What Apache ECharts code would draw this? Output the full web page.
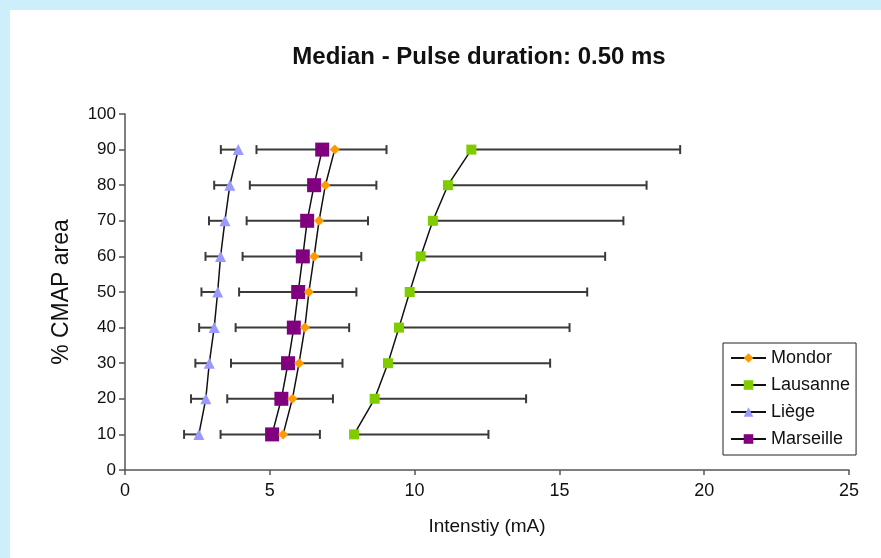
<!DOCTYPE html>
<html>
<head>
<meta charset="utf-8">
<script src="https://cdn.jsdelivr.net/npm/echarts@6/dist/echarts.min.js"></script>
<style>
  html, body { margin: 0; padding: 0; background: #cdeffc; }
  #chart { width: 881px; height: 558px; }
</style>
</head>
<body>
<div id="chart"></div>
<script>
// % CMAP area levels (y) and median intensities (mA)
const levels = [10, 20, 30, 40, 50, 60, 70, 80, 90];
const mondor = [5.46, 5.78, 6.01, 6.21, 6.35, 6.53, 6.70, 6.92, 7.24];
const mondorHigh = [6.73, 7.18, 7.51, 7.74, 7.99, 8.16, 8.39, 8.68, 9.03];
const lausanne = [7.91, 8.62, 9.08, 9.46, 9.83, 10.21, 10.63, 11.15, 11.96];
const lausanneHigh = [12.55, 13.85, 14.68, 15.35, 15.96, 16.58, 17.21, 18.01, 19.17];
const liege = [2.55, 2.79, 2.91, 3.08, 3.20, 3.30, 3.45, 3.62, 3.91];
const liegeLow = [2.04, 2.28, 2.43, 2.56, 2.64, 2.78, 2.90, 3.08, 3.31];
const marseille = [5.08, 5.40, 5.63, 5.83, 5.98, 6.14, 6.29, 6.53, 6.81];
const marseilleLow = [3.30, 3.53, 3.66, 3.82, 3.94, 4.06, 4.20, 4.31, 4.54];

const chart = echarts.init(document.getElementById('chart'));

// points [x, y]
function pts(xs) {
    return levels.map((lv, i) => [xs[i], lv]);
}
// error bar items [end, y, marker]
function bars(ends, marks) {
    return levels.map((lv, i) => [ends[i], lv, marks[i]]);
}

function renderBar(params, api) {
    const p0 = api.coord([api.value(0), api.value(1)]);
    const p1 = api.coord([api.value(2), api.value(1)]);
    const h = 4.5;
    const st = { stroke: '#3a3a3a', lineWidth: 2 };
    return {
        type: 'group',
        children: [
            { type: 'line', shape: { x1: p0[0], y1: p0[1], x2: p1[0], y2: p1[1] }, style: st },
            { type: 'line', shape: { x1: p0[0], y1: p0[1] - h, x2: p0[0], y2: p0[1] + h }, style: st }
        ]
    };
}

function barSeries(data) {
    return {
        type: 'custom',
        renderItem: renderBar,
        data: data,
        encode: { x: [0, 2], y: 1 },
        silent: true,
        z: 1
    };
}

function lineSeries(name, data, symbol, size, color, z) {
    return {
        name: name,
        type: 'line',
        data: data,
        symbol: symbol,
        symbolSize: size,
        showSymbol: true,
        itemStyle: { color: color, borderWidth: 0 },
        lineStyle: { color: '#111', width: 1.5 },
        emphasis: { disabled: true },
        z: z
    };
}

const font = 'Liberation Sans, Arial, sans-serif';

const option = {
    backgroundColor: '#cdeffc',
    animation: false,
    graphic: {
        z: -10,
        elements: [{
            type: 'rect',
            shape: { x: 10, y: 10, width: 871, height: 548 },
            style: { fill: '#ffffff' },
            silent: true
        }]
    },
    title: {
        text: 'Median - Pulse duration: 0.50 ms',
        left: 474,
        top: 40,
        textAlign: 'center',
        textStyle: { fontFamily: font, fontSize: 24, fontWeight: 'bold', color: '#111' }
    },
    legend: {
        data: ['Mondor', 'Lausanne', 'Liège', 'Marseille'],
        orient: 'vertical',
        left: 723,
        top: 343,
        padding: [6, 6, 7, 7],
        itemWidth: 35,
        itemHeight: 12,
        itemGap: 9,
        borderColor: '#222',
        borderWidth: 1,
        backgroundColor: '#fff',
        textStyle: { fontFamily: font, fontSize: 18, color: '#111' }
    },
    grid: { left: 125, right: 32, top: 114, bottom: 88, containLabel: false },
    xAxis: {
        type: 'value',
        min: 0,
        max: 25,
        interval: 5,
        name: 'Intenstiy (mA)',
        nameLocation: 'middle',
        nameGap: 47,
        nameTextStyle: { fontFamily: font, fontSize: 19, color: '#111' },
        axisLine: { show: true, lineStyle: { color: '#555', width: 1.5 } },
        axisTick: { show: true, length: 5, lineStyle: { color: '#555', width: 1.5 } },
        axisLabel: { fontFamily: font, fontSize: 18, color: '#111', margin: 12 },
        splitLine: { show: false }
    },
    yAxis: {
        type: 'value',
        min: 0,
        max: 100,
        interval: 10,
        name: '% CMAP area',
        nameLocation: 'middle',
        nameGap: 52,
        nameTextStyle: { fontFamily: font, fontSize: 23, color: '#111' },
        axisLine: { show: true, lineStyle: { color: '#555', width: 1.5 } },
        axisTick: { show: true, length: 6, lineStyle: { color: '#555', width: 1.5 } },
        axisLabel: { fontFamily: font, fontSize: 17, color: '#111', margin: 9 },
        splitLine: { show: false }
    },
    series: [
        barSeries(bars(liegeLow, liege)),
        barSeries(bars(marseilleLow, marseille)),
        barSeries(bars(mondorHigh, mondor)),
        barSeries(bars(lausanneHigh, lausanne)),
        lineSeries('Lausanne', pts(lausanne), 'rect', 10, '#80cc00', 3),
        lineSeries('Liège', pts(liege), 'triangle', 11, '#9999ff', 3),
        lineSeries('Marseille', pts(marseille), 'rect', 14, '#800080', 4),
        lineSeries('Mondor', pts(mondor), 'diamond', 10, '#ff9900', 5)
    ]
};

chart.setOption(option);

window.addEventListener('resize', function () {
    chart.resize();
});
</script>
</body>
</html>
